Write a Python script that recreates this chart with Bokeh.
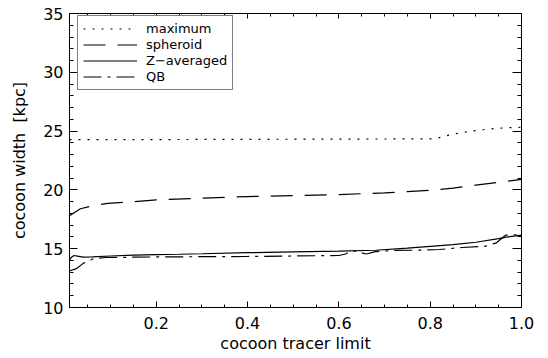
from bokeh.plotting import figure
from bokeh.models import (FixedTicker, LinearAxis, PrintfTickFormatter, Range1d,
                          Legend, LegendItem)
from bokeh.embed import file_html
from bokeh.resources import INLINE

# ---- data ----
x_max = [0.01, 0.1, 0.2, 0.4, 0.6, 0.81, 0.83, 0.853, 0.875, 0.9, 0.92, 0.94, 0.966, 1.0]
w_max = [24.27, 24.28, 24.28, 24.3, 24.32, 24.34, 24.54, 24.77, 24.9, 25.05, 25.14, 25.22, 25.28, 25.33]

x_sph = [0.01, 0.034, 0.062, 0.094, 0.15, 0.2, 0.3, 0.4, 0.5, 0.6, 0.7, 0.75, 0.8, 0.85, 0.9, 0.95, 1.0]
w_sph = [17.8, 18.4, 18.67, 18.85, 19.0, 19.15, 19.3, 19.43, 19.52, 19.6, 19.75, 19.85, 19.97, 20.15, 20.4, 20.65, 20.9]

x_zav = [0.01, 0.015, 0.02, 0.03, 0.04, 0.06, 0.1, 0.15, 0.2, 0.25, 0.3, 0.4, 0.5, 0.6, 0.68,
         0.75, 0.8, 0.85, 0.9, 0.95, 0.97, 1.0]
w_zav = [14.05, 14.3, 14.42, 14.35, 14.28, 14.3, 14.38, 14.45, 14.5, 14.53, 14.57, 14.66, 14.73,
         14.79, 14.87, 15.05, 15.2, 15.35, 15.55, 15.85, 16.0, 16.15]

x_qb = [0.01, 0.025, 0.04, 0.062, 0.09, 0.2, 0.3, 0.4, 0.5, 0.6, 0.615, 0.628, 0.645, 0.66,
        0.68, 0.72, 0.77, 0.82, 0.87, 0.92, 0.945, 0.965, 0.98, 1.0]
w_qb = [13.1, 13.3, 13.75, 14.15, 14.25, 14.3, 14.32, 14.34, 14.38, 14.42, 14.55, 14.85, 14.7,
        14.55, 14.75, 14.85, 14.87, 14.93, 15.1, 15.2, 15.5, 16.15, 16.2, 16.1]

labels = ["maximum", "spheroid", "Z\u2212averaged", "QB"]
x_ticks = [0.2, 0.4, 0.6, 0.8, 1.0]
x_minor = [round(0.05 * i, 2) for i in range(1, 21)]
y_ticks = [10, 15, 20, 25, 30, 35]
y_minor = list(range(10, 36))

FONT = "DejaVu Sans"

p = figure(width=548, height=358, output_backend="svg", toolbar_location=None,
           x_range=Range1d(0.01, 1.0), y_range=Range1d(10, 35),
           min_border_left=69, min_border_right=27, min_border_top=13, min_border_bottom=51)
p.grid.visible = False
p.outline_line_color = "black"
p.outline_line_width = 1
p.background_fill_color = "white"
p.border_fill_color = "white"

xt = FixedTicker(ticks=x_ticks, minor_ticks=x_minor)
yt = FixedTicker(ticks=y_ticks, minor_ticks=y_minor)


def style(ax, ticker, major_in, minor_in, show):
    ax.ticker = ticker
    ax.axis_line_color = "black"
    ax.major_tick_line_color = "black"
    ax.minor_tick_line_color = "black"
    ax.major_tick_in = major_in
    ax.major_tick_out = 0
    ax.minor_tick_in = minor_in
    ax.minor_tick_out = 0
    ax.major_label_text_font = FONT
    ax.major_label_text_color = "black"
    ax.axis_label_text_font = FONT
    ax.axis_label_text_font_style = "normal"
    ax.axis_label_text_color = "black"
    if not show:
        ax.major_label_text_font_size = "0px"
        ax.major_label_text_color = None
        ax.major_label_standoff = 0
        ax.axis_label = None


xa = p.xaxis[0]
style(xa, xt, 6, 3, True)
xa.formatter = PrintfTickFormatter(format="%.1f")
xa.major_label_text_font_size = "16px"
xa.major_label_standoff = 9
xa.axis_label = "cocoon tracer limit"
xa.axis_label_text_font_size = "16px"
xa.axis_label_standoff = 2

ya = p.yaxis[0]
style(ya, yt, 8, 4, True)
ya.formatter = PrintfTickFormatter(format="%d")
ya.major_label_text_font_size = "16px"
ya.major_label_standoff = 6
ya.axis_label = "cocoon width \u00a0[kpc]"
ya.axis_label_text_font_size = "16px"
ya.axis_label_standoff = 11

top = LinearAxis()
style(top, xt, 5, 3, False)
p.add_layout(top, "above")
right = LinearAxis()
style(right, yt, 9, 4, False)
p.add_layout(right, "right")

r_max = p.line(x_max, w_max, line_color="black", line_width=1.2, line_dash="2 7")
r_sph = p.line(x_sph, w_sph, line_color="black", line_width=1.2, line_dash="22 12")
r_zav = p.line(x_zav, w_zav, line_color="black", line_width=1.2)
r_qb = p.line(x_qb, w_qb, line_color="black", line_width=1.2, line_dash="18 6 3 6")

legend = Legend(items=[LegendItem(label=labels[0], renderers=[r_max]),
                       LegendItem(label=labels[1], renderers=[r_sph]),
                       LegendItem(label=labels[2], renderers=[r_zav]),
                       LegendItem(label=labels[3], renderers=[r_qb])],
                location=(8, 217), padding=5, spacing=1, margin=0,
                glyph_height=13, label_height=13, glyph_width=54, label_standoff=9,
                label_text_font=FONT, label_text_font_size="13px", label_text_color="black",
                label_text_align="left",
                border_line_color="black", border_line_width=1,
                background_fill_color="white", background_fill_alpha=1.0)
p.add_layout(legend, "center")

open("out.html", "w").write(file_html(p, INLINE))
